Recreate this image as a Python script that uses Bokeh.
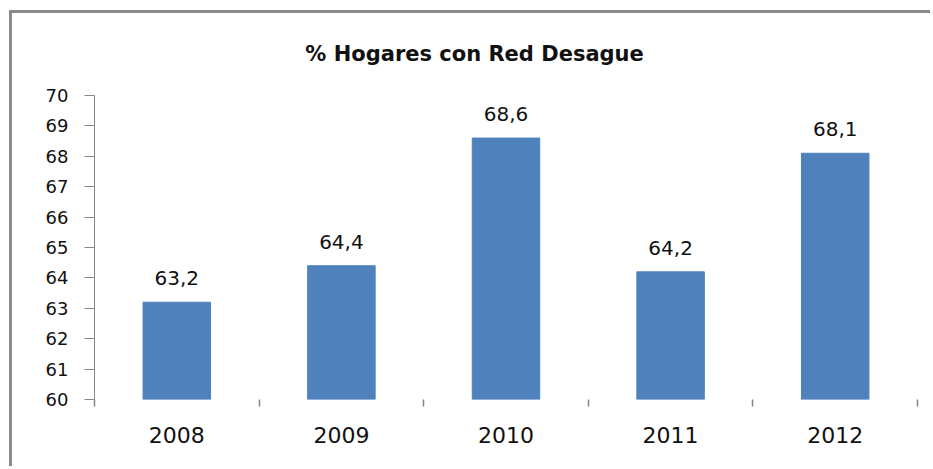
from bokeh.plotting import figure
from bokeh.models import (ColumnDataSource, Range1d, LinearAxis,
                          FixedTicker, Label)
from bokeh.embed import file_html
from bokeh.resources import INLINE

# data
years = ["2008", "2009", "2010", "2011", "2012"]
values = [63.2, 64.4, 68.6, 64.2, 68.1]
labels = ["63,2", "64,4", "68,6", "64,2", "68,1"]
y_ticks = [60, 61, 62, 63, 64, 65, 66, 67, 68, 69, 70]
title_text = "% Hogares con Red Desague"

BAR = "#4F81BD"
AXIS = "#868686"
FONT = "DejaVu Sans"

n = len(years)
centers = [i + 0.5 for i in range(n)]
src = ColumnDataSource(dict(x=centers, top=values, lab=labels))

# frame spans the full top of the canvas; the value axis stops at 70,
# the space above it holds the chart title
Y_MIN, Y_MAX = y_ticks[0], y_ticks[-1]
TOP_EXTRA = 82 / 30.4   # room above the axis for the title (px / px-per-unit)

p = figure(width=921, height=456, output_backend="svg", toolbar_location=None,
           x_range=Range1d(0, n), y_range=Range1d(Y_MIN, Y_MAX + TOP_EXTRA),
           min_border_left=82, min_border_right=16, min_border_top=0,
           min_border_bottom=70, x_axis_location=None, y_axis_location=None)
p.styles = {"margin-left": "9px", "margin-top": "10px",
            "border-left": "3px solid #8a8a8a", "border-top": "3px solid #8a8a8a"}
p.outline_line_color = None
p.xgrid.visible = False
p.ygrid.visible = False
p.background_fill_color = "white"
p.border_fill_color = "white"

# chart title
title = Label(text=title_text, x=n * 0.4618, y=Y_MAX + 42 / 30.4,
              text_align="center", text_baseline="alphabetic",
              text_font=FONT, text_font_size="21px", text_font_style="bold",
              text_color="#111111")
p.add_layout(title)

p.vbar(x="x", top="top", bottom=Y_MIN, width=0.41, source=src, color=BAR)
p.text(x="x", y="top", text="lab", source=src, text_align="center",
       text_baseline="alphabetic", y_offset=-24, text_font_size="20px",
       text_font={"value": FONT}, text_color="#111111")

# y axis
yax = LinearAxis(ticker=FixedTicker(ticks=y_ticks), bounds=(Y_MIN, Y_MAX))
yax.axis_line_color = AXIS
yax.major_tick_line_color = AXIS
yax.major_tick_out = 10
yax.major_tick_in = 0
yax.minor_tick_line_color = None
yax.major_label_text_font = FONT
yax.major_label_text_font_size = "18px"
yax.major_label_text_color = "#111111"
yax.major_label_standoff = 16
p.add_layout(yax, "left")

# boundary ticks on x
bax = LinearAxis(ticker=FixedTicker(ticks=list(range(n + 1))))
bax.axis_line_color = None
bax.major_tick_line_color = AXIS
bax.major_tick_line_width = 1.5
bax.major_tick_out = 7
bax.major_tick_in = 0
bax.minor_tick_line_color = None
bax.major_label_overrides = {i: "" for i in range(n + 1)}
bax.major_label_standoff = 0
p.add_layout(bax, "below")

# category labels
xax = LinearAxis(ticker=FixedTicker(ticks=centers))
xax.major_label_overrides = {c: y for c, y in zip(centers, years)}
xax.axis_line_color = None
xax.major_tick_line_color = None
xax.minor_tick_line_color = None
xax.major_label_text_font = FONT
xax.major_label_text_font_size = "22px"
xax.major_label_text_color = "#111111"
xax.major_label_standoff = 14
p.add_layout(xax, "below")

open("out.html", "w").write(file_html(p, INLINE))
